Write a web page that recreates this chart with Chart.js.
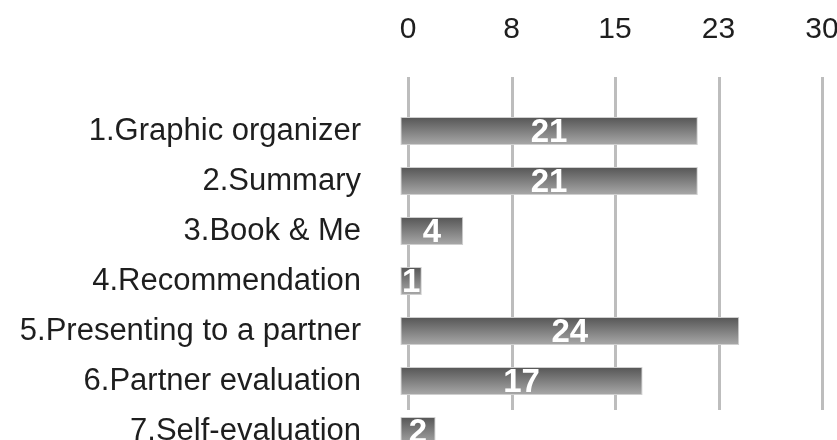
<!DOCTYPE html>
<html>
<head>
<meta charset="utf-8">
<script src="https://cdn.jsdelivr.net/npm/chart.js@4"></script>
<style>
  html, body { margin: 0; padding: 0; overflow: hidden; background: #fff; }
  canvas { display: block; }
</style>
</head>
<body>
<canvas id="activityChart" width="837" height="462" style="width:837px;height:462px"></canvas>
<script>
const categories = [
    '1.Graphic organizer', '2.Summary', '3.Book & Me', '4.Recommendation',
    '5.Presenting to a partner', '6.Partner evaluation', '7.Self-evaluation'
];
const counts = [21, 21, 4, 1, 24, 17, 2];
const tickValues = [0, 7.5, 15, 22.5, 30];

const ctx = document.getElementById('activityChart').getContext('2d');
const font = 'Liberation Sans, Arial, sans-serif';

// bar fill: dark at the top, lighter at the bottom
function barGradient(c) {
    const chart = c.chart;
    if (c.type !== 'data' || !chart.chartArea || !chart.scales.y) return '#808080';
    const yc = chart.scales.y.getPixelForValue(c.dataIndex);
    const g = chart.ctx.createLinearGradient(0, yc - 14, 0, yc + 14);
    g.addColorStop(0, '#555555');
    g.addColorStop(1, '#a9a9a9');
    return g;
}

// short vertical grid lines, they stop above the last bar
const gridLines = {
    id: 'gridLines',
    beforeDatasetsDraw(chart) {
        const x = chart.scales.x, y = chart.scales.y;
        const top = chart.chartArea.top - 29;
        const bottom = y.getPixelForValue(5) + 29;
        const c = chart.ctx;
        c.save();
        c.strokeStyle = '#bdbdbd';
        c.lineWidth = 3;
        tickValues.forEach(v => {
            const px = Math.round(x.getPixelForValue(v)) + 0.5;
            c.beginPath();
            c.moveTo(px, top);
            c.lineTo(px, bottom);
            c.stroke();
        });
        c.restore();
    }
};

// white numbers in the middle of each bar
const barValues = {
    id: 'barValues',
    afterDatasetsDraw(chart) {
        const meta = chart.getDatasetMeta(0);
        const c = chart.ctx;
        c.save();
        c.fillStyle = '#fff';
        c.font = 'bold 33px ' + font;
        c.textAlign = 'center';
        c.textBaseline = 'middle';
        meta.data.forEach((bar, i) => {
            c.fillText(String(counts[i]), (bar.x + bar.base) / 2, bar.y + 2);
        });
        c.restore();
    }
};

const config = {
    type: 'bar',
    data: {
        labels: categories,
        datasets: [{
            data: counts,
            base: -0.55,
            backgroundColor: barGradient,
            borderColor: '#cfcfcf',
            borderWidth: 1,
            borderSkipped: false,
            barPercentage: 0.56,
            categoryPercentage: 1,
            clip: false
        }]
    },
    plugins: [gridLines, barValues],
    options: {
        indexAxis: 'y',
        responsive: false,
        animation: false,
        layout: { padding: { top: 0, right: 15, bottom: 6, left: 0 } },
        scales: {
            x: {
                position: 'top',
                min: 0,
                max: 30,
                afterBuildTicks: (s) => { s.ticks = tickValues.map(v => ({ value: v })); },
                afterFit: (s) => { s.height = 106; s.paddingLeft = 0; s.paddingRight = 0; },
                grid: { display: false, drawTicks: false },
                border: { display: false },
                ticks: {
                    color: '#1e1e1e',
                    padding: 58,
                    maxRotation: 0,
                    font: { family: font, size: 30 },
                    callback: (v) => Math.round(v)
                }
            },
            y: {
                afterFit: (s) => { s.width = 408; s.paddingTop = 0; s.paddingBottom = 0; },
                grid: { display: false, drawTicks: false },
                border: { display: false },
                ticks: {
                    color: '#1e1e1e',
                    padding: 47,
                    font: { family: font, size: 31 }
                }
            }
        },
        plugins: {
            legend: { display: false },
            tooltip: { enabled: false }
        }
    }
};

const activityChart = new Chart(ctx, config);
</script>
</body>
</html>
